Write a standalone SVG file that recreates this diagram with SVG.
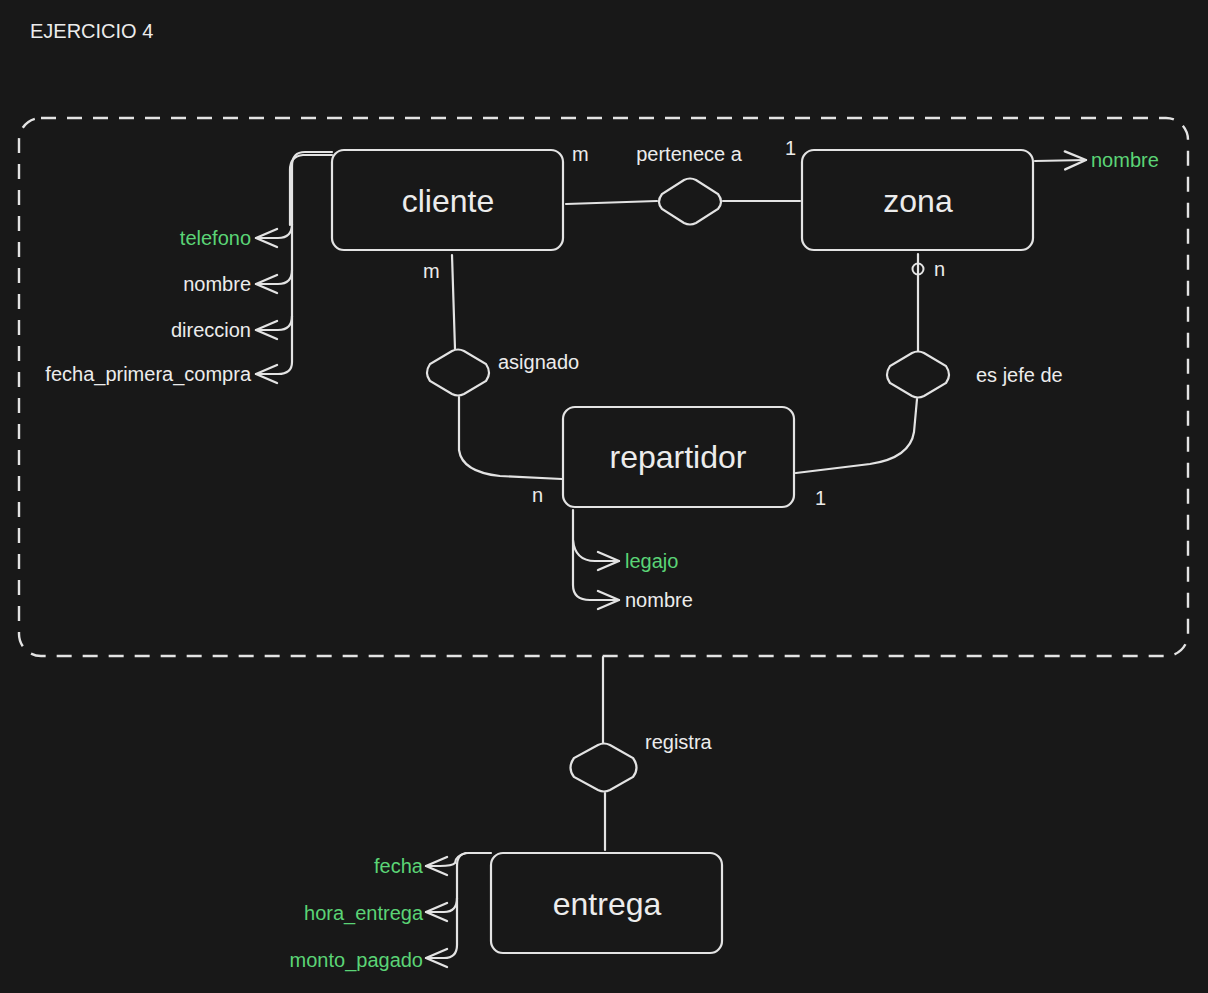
<svg xmlns="http://www.w3.org/2000/svg" width="1208" height="993" viewBox="0 0 1208 993">
<style>
.ln{fill:none;stroke:#e3e3e3;stroke-width:2.2;stroke-linecap:round;stroke-linejoin:round}
.box{fill:#181818;stroke:#e3e3e3;stroke-width:2.2}
.t{font-family:"Liberation Sans",Arial,sans-serif;fill:#ececec}
.ent{font-size:32px;text-anchor:middle}
.lb{font-size:20px}
.g{fill:#5bd476}
.r{text-anchor:end}
</style>
<defs>
<marker id="arr" viewBox="-24 -13 26 26" refX="0" refY="0" markerWidth="26" markerHeight="26" markerUnits="userSpaceOnUse" orient="auto">
<path d="M-21,-9 L0,0 L-21,9" fill="none" stroke="#e3e3e3" stroke-width="2.4" stroke-linecap="round" stroke-linejoin="round"/>
</marker>
</defs>
<rect width="1208" height="993" fill="#181818"/>
<text class="t" x="30" y="38" font-size="20">EJERCICIO 4</text>
<rect x="19" y="118" width="1169" height="538" rx="22" fill="none" stroke="#e3e3e3" stroke-width="2.4" stroke-dasharray="15 11"/>

<g id="connectors">
<path class="ln" d="M566,204 L657,201"/>
<path class="ln" d="M723,201 L800,201"/>
<path class="ln" d="M452,255 L455,349"/>
<path class="ln" d="M459,397 L459,450 Q462,472 500,476 L562,479"/>
<path class="ln" d="M918,254 L918,351"/>
<circle cx="918" cy="269" r="5.5" fill="none" stroke="#e3e3e3" stroke-width="2"/>
<path class="ln" d="M917,399 L914,432 Q910,458 870,464 L796,473"/>
<path class="ln" d="M603,657 L603,743"/>
<path class="ln" d="M605,793 L605,850"/>
<!-- cliente attrs -->
<path class="ln" d="M332,152 L305,152 Q292,152 292,166 L292,362 Q292,374 278,374 L256,374" marker-end="url(#arr)"/>
<path class="ln" d="M332,155 L303,155 Q290,156 290,170 L290,225"/>
<path class="ln" d="M292,224 Q292,238 278,238 L256,238" marker-end="url(#arr)"/>
<path class="ln" d="M292,270 Q292,284 278,284 L256,284" marker-end="url(#arr)"/>
<path class="ln" d="M292,316 Q292,330 278,330 L256,330" marker-end="url(#arr)"/>
<!-- zona attr -->
<path class="ln" d="M1035,161 L1086,160" marker-end="url(#arr)"/>
<!-- repartidor attrs -->
<path class="ln" d="M573,510 L573,585 Q573,600 590,600 L619,600" marker-end="url(#arr)"/>
<path class="ln" d="M573,540 Q575,561 595,561 L619,561" marker-end="url(#arr)"/>
<!-- entrega attrs -->
<path class="ln" d="M491,853 L468,853 Q457,853 457,866 L457,945 Q457,958 444,958 L426,958" marker-end="url(#arr)"/>
<path class="ln" d="M466,853 Q455,856 455,863 Q452,866 440,866 L426,866" marker-end="url(#arr)"/>
<path class="ln" d="M457,898 Q457,912 444,912 L426,912" marker-end="url(#arr)"/>
</g>

<g id="cliente">
<rect class="box" x="332" y="150" width="231" height="100" rx="12"/>
<text class="t ent" x="448" y="212">cliente</text>
</g>
<g id="zona">
<rect class="box" x="802" y="150" width="231" height="100" rx="12"/>
<text class="t ent" x="918" y="212">zona</text>
</g>
<g id="repartidor">
<rect class="box" x="563" y="407" width="231" height="100" rx="12"/>
<text class="t ent" x="678" y="468">repartidor</text>
</g>
<g id="entrega">
<rect class="box" x="491" y="853" width="231" height="100" rx="12"/>
<text class="t ent" x="607" y="915">entrega</text>
</g>

<g id="pertenece">
<path class="box" d="M684,180 Q690,177 696,180 L718,194 Q724,202 718,209 L696,223 Q690,226 684,223 L662,209 Q656,202 662,194 Z"/>
<text class="t lb" x="689" y="161" text-anchor="middle">pertenece a</text>
<text class="t lb" x="572" y="161">m</text>
<text class="t lb" x="785" y="155">1</text>
</g>
<g id="asignado">
<path class="box" d="M452,351 Q458,348 464,351 L486,364 Q492,373 486,381 L464,394 Q458,397 452,394 L430,381 Q424,373 430,364 Z"/>
<text class="t lb" x="498" y="369">asignado</text>
<text class="t lb" x="423" y="278">m</text>
<text class="t lb" x="532" y="502">n</text>
</g>
<g id="esjefede">
<path class="box" d="M912,353 Q918,350 924,353 L946,366 Q952,375 946,383 L924,396 Q918,399 912,396 L890,383 Q884,375 890,366 Z"/>
<text class="t lb" x="976" y="382">es jefe de</text>
<text class="t lb" x="934" y="276">n</text>
<text class="t lb" x="815" y="505">1</text>
</g>
<g id="registra">
<path class="box" d="M598,745 Q604,742 610,745 L633,758 Q640,768 633,777 L610,790 Q604,793 598,790 L574,777 Q567,768 574,758 Z"/>
<text class="t lb" x="645" y="749">registra</text>
</g>

<g id="attrs">
<text class="t lb r g" x="251" y="245">telefono</text>
<text class="t lb r" x="251" y="291">nombre</text>
<text class="t lb r" x="251" y="337">direccion</text>
<text class="t lb r" x="251" y="381">fecha_primera_compra</text>
<text class="t lb g" x="1091" y="167">nombre</text>
<text class="t lb g" x="625" y="568">legajo</text>
<text class="t lb" x="625" y="607">nombre</text>
<text class="t lb r g" x="423" y="873">fecha</text>
<text class="t lb r g" x="423" y="920">hora_entrega</text>
<text class="t lb r g" x="423" y="967">monto_pagado</text>
</g>
</svg>
